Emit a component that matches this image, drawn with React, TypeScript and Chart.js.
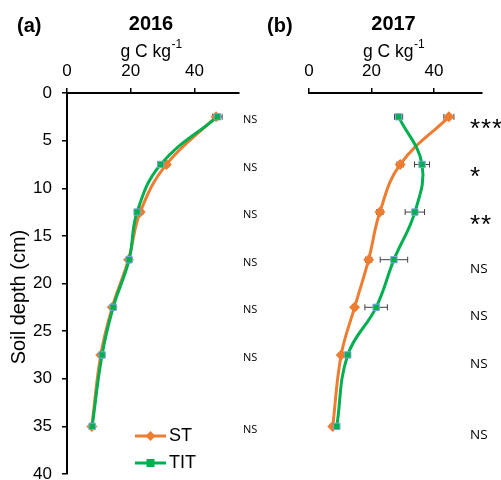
import React, { useEffect, useRef } from "react";
import { Chart, registerables } from "chart.js";
Chart.register(...registerables);

const depths = [2.5, 7.5, 12.5, 17.5, 22.5, 27.5, 35];
const st2016 = [46.8, 31.2, 23.0, 19.3, 14.2, 10.6, 7.8];
const tit2016 = [47.2, 29.4, 22.0, 19.5, 14.5, 11.0, 7.9];
const stErr2016 = [1.0, 0.8, 0.8, 0.6, 0.6, 0.4, 0.4];
const titErr2016 = [1.5, 0.8, 0.6, 0.5, 0.5, 0.4, 0.3];
const st2017 = [44.8, 29.2, 22.7, 19.1, 14.6, 10.3, 7.6];
const tit2017 = [28.7, 36.2, 33.9, 27.2, 21.5, 12.4, 8.9];
const stErr2017 = [1.6, 1.0, 1.0, 1.0, 0.6, 0.6, 0.5];
const titErr2017 = [1.3, 2.4, 3.1, 4.4, 3.6, 0.8, 0.5];
const sig2016 = ["NS", "NS", "NS", "NS", "NS", "NS", "NS"];
const sig2017 = ["***", "*", "**", "NS", "NS", "NS", "NS"];
const xTicks = [0, 20, 40];
const yTicks = [0, 5, 10, 15, 20, 25, 30, 35, 40];
const seriesNames = ["ST", "TIT"];

const ORANGE = "#ED7D31";
const GREEN = "#00B050";
const FONT = "'Liberation Sans', Arial, sans-serif";

type PanelCfg = {
  panel: string;
  year: string;
  st: number[];
  tit: number[];
  stErr: number[];
  titErr: number[];
  sig: string[];
  xMax: number;
  showY: boolean;
  padLeft: number;
  padRight: number;
};

function drawMarker(ctx: CanvasRenderingContext2D, kind: string, x: number, y: number) {
  ctx.save();
  if (kind === "ST") {
    ctx.fillStyle = ORANGE;
    ctx.beginPath();
    ctx.moveTo(x, y - 5);
    ctx.lineTo(x + 5, y);
    ctx.lineTo(x, y + 5);
    ctx.lineTo(x - 5, y);
    ctx.closePath();
    ctx.fill();
  } else {
    ctx.fillStyle = GREEN;
    ctx.fillRect(x - 4, y - 4, 8, 8);
  }
  ctx.restore();
}

function makePlugin(cfg: PanelCfg) {
  return {
    id: "decor" + cfg.panel,
    beforeDatasetsDraw(chart: any) {
      const ctx: CanvasRenderingContext2D = chart.ctx;
      const xs = chart.scales.x;
      const ys = chart.scales.y;
      ctx.save();
      ctx.strokeStyle = "#404040";
      ctx.lineWidth = 1;
      const sets = [
        [cfg.st, cfg.stErr],
        [cfg.tit, cfg.titErr],
      ];
      sets.forEach(([vals, errs]) => {
        vals.forEach((v, i) => {
          const y = ys.getPixelForValue(depths[i]);
          const x1 = xs.getPixelForValue(v - errs[i]);
          const x2 = xs.getPixelForValue(v + errs[i]);
          ctx.beginPath();
          ctx.moveTo(x1, y);
          ctx.lineTo(x2, y);
          ctx.moveTo(x1, y - 3);
          ctx.lineTo(x1, y + 3);
          ctx.moveTo(x2, y - 3);
          ctx.lineTo(x2, y + 3);
          ctx.stroke();
        });
      });
      ctx.restore();
    },
    afterDraw(chart: any) {
      const ctx: CanvasRenderingContext2D = chart.ctx;
      const area = chart.chartArea;
      const ys = chart.scales.y;
      const cx = (area.left + area.right) / 2 - 2;
      ctx.save();
      ctx.fillStyle = "#000";
      ctx.textBaseline = "middle";
      // panel letter
      ctx.font = `bold 20px ${FONT}`;
      ctx.textAlign = "left";
      ctx.fillText(cfg.panel, 17, 26);
      // year
      ctx.textAlign = "center";
      ctx.fillText(cfg.year, cx, 24);
      // unit
      ctx.font = `17.5px ${FONT}`;
      const main = "g C kg";
      const mw = ctx.measureText(main).width;
      ctx.font = `12px ${FONT}`;
      const sw = ctx.measureText("-1").width;
      const startX = cx - (mw + sw) / 2;
      ctx.textAlign = "left";
      ctx.font = `17.5px ${FONT}`;
      ctx.fillText(main, startX, 52);
      ctx.font = `12px ${FONT}`;
      ctx.fillText("-1", startX + mw + 0.5, 45);
      // significance
      cfg.sig.forEach((s, i) => {
        const y = ys.getPixelForValue(depths[i]);
        if (cfg.showY) {
          ctx.font = `11px 'Open Sans', ${FONT}`;
          ctx.textAlign = "left";
          ctx.fillText(s, area.right + 4, y + 3);
        } else if (s === "NS") {
          ctx.font = `13.5px 'Open Sans', ${FONT}`;
          ctx.textAlign = "left";
          ctx.fillText(s, area.right - 12, y + 9);
        } else {
          ctx.font = `26px ${FONT}`;
          ctx.textAlign = "left";
          ctx.textBaseline = "alphabetic";
          const off = i === 0 ? 5 : 6;
          for (let k = 0; k < s.length; k++) {
            ctx.fillText("*", area.right - 12 + k * 11, y + off + 15);
          }
          ctx.textBaseline = "middle";
        }
      });
      if (cfg.showY) {
        // axis title
        ctx.save();
        ctx.translate(19, 297);
        ctx.rotate(-Math.PI / 2);
        ctx.font = `20px ${FONT}`;
        ctx.textAlign = "center";
        ctx.fillText("Soil depth (cm)", 0, 0);
        ctx.restore();
        // legend
        const legY = [436, 463];
        const colors = [ORANGE, GREEN];
        seriesNames.forEach((n, i) => {
          ctx.strokeStyle = colors[i];
          ctx.lineWidth = 3;
          ctx.beginPath();
          ctx.moveTo(135, legY[i]);
          ctx.lineTo(166, legY[i]);
          ctx.stroke();
          drawMarker(ctx, n, 150.5, legY[i]);
          ctx.fillStyle = "#000";
          ctx.font = `18px ${FONT}`;
          ctx.textAlign = "left";
          ctx.fillText(n, 169, legY[i]);
        });
      }
      ctx.restore();
    },
  };
}

function buildChart(canvas: HTMLCanvasElement, cfg: PanelCfg) {
  const toPts = (vals: number[]) => vals.map((v, i) => ({ x: v, y: depths[i] }));
  return new Chart(canvas, {
    type: "line",
    data: {
      datasets: [
        {
          label: seriesNames[0],
          data: toPts(cfg.st),
          borderColor: ORANGE,
          backgroundColor: ORANGE,
          borderWidth: 3,
          pointStyle: "rectRot",
          pointRadius: 5.5,
          pointBorderColor: ORANGE,
          pointBorderWidth: 0,
          pointBackgroundColor: ORANGE,
          tension: 0.4,
          order: 1,
        },
        {
          label: seriesNames[1],
          data: toPts(cfg.tit),
          borderColor: GREEN,
          backgroundColor: GREEN,
          borderWidth: 3,
          pointStyle: "rect",
          pointRadius: 4.5,
          pointBorderColor: "#7FA6D6",
          pointBorderWidth: 1,
          pointBackgroundColor: GREEN,
          tension: 0.4,
          order: 0,
        },
      ],
    } as any,
    options: {
      animation: false,
      responsive: false,
      maintainAspectRatio: false,
      layout: { padding: { top: 0, left: cfg.padLeft, right: cfg.padRight, bottom: 26 } },
      plugins: { legend: { display: false }, tooltip: { enabled: false } },
      scales: {
        x: {
          type: "linear",
          position: "top",
          min: 0,
          max: cfg.xMax,
          afterBuildTicks: (s: any) => {
            s.ticks = xTicks.map((v) => ({ value: v }));
          },
          afterFit: (s: any) => {
            s.height = 93;
          },
          ticks: { color: "#000", font: { size: 17, family: FONT }, padding: 6 },
          grid: { drawOnChartArea: false, drawTicks: true, tickLength: 5, color: "#000", lineWidth: 1.5 },
          border: { display: true, color: "#000", width: 2 },
        },
        y: {
          type: "linear",
          display: cfg.showY,
          reverse: true,
          min: 0,
          max: 40,
          afterBuildTicks: (s: any) => {
            s.ticks = yTicks.map((v) => ({ value: v }));
          },
          afterFit: (s: any) => {
            s.width = cfg.showY ? 67 : 0;
          },
          ticks: { color: "#000", font: { size: 17, family: FONT }, padding: 10 },
          grid: { drawOnChartArea: false, drawTicks: true, tickLength: 5, color: "#000", lineWidth: 1.5 },
          border: { display: true, color: "#000", width: 2 },
        },
      },
    } as any,
    plugins: [makePlugin(cfg)],
  });
}

export default function App() {
  const refA = useRef<HTMLCanvasElement>(null);
  const refB = useRef<HTMLCanvasElement>(null);
  useEffect(() => {
    const a = buildChart(refA.current!, {
      panel: "(a)",
      year: "2016",
      st: st2016,
      tit: tit2016,
      stErr: stErr2016,
      titErr: titErr2016,
      sig: sig2016,
      xMax: 54,
      showY: true,
      padLeft: 0,
      padRight: 21,
    });
    const b = buildChart(refB.current!, {
      panel: "(b)",
      year: "2017",
      st: st2017,
      tit: tit2017,
      stErr: stErr2017,
      titErr: titErr2017,
      sig: sig2017,
      xMax: 55.4,
      showY: false,
      padLeft: 59,
      padRight: 19,
    });
    return () => {
      a.destroy();
      b.destroy();
    };
  }, []);
  return (
    <div style={{ position: "fixed", left: 0, top: 0, width: 501, height: 480, overflow: "hidden", background: "#fff" }}>
      <canvas ref={refA} width={260} height={500} style={{ position: "absolute", left: 0, top: 0, width: 260, height: 500 }} />
      <canvas ref={refB} width={251} height={500} style={{ position: "absolute", left: 250, top: 0, width: 251, height: 500 }} />
    </div>
  );
}
